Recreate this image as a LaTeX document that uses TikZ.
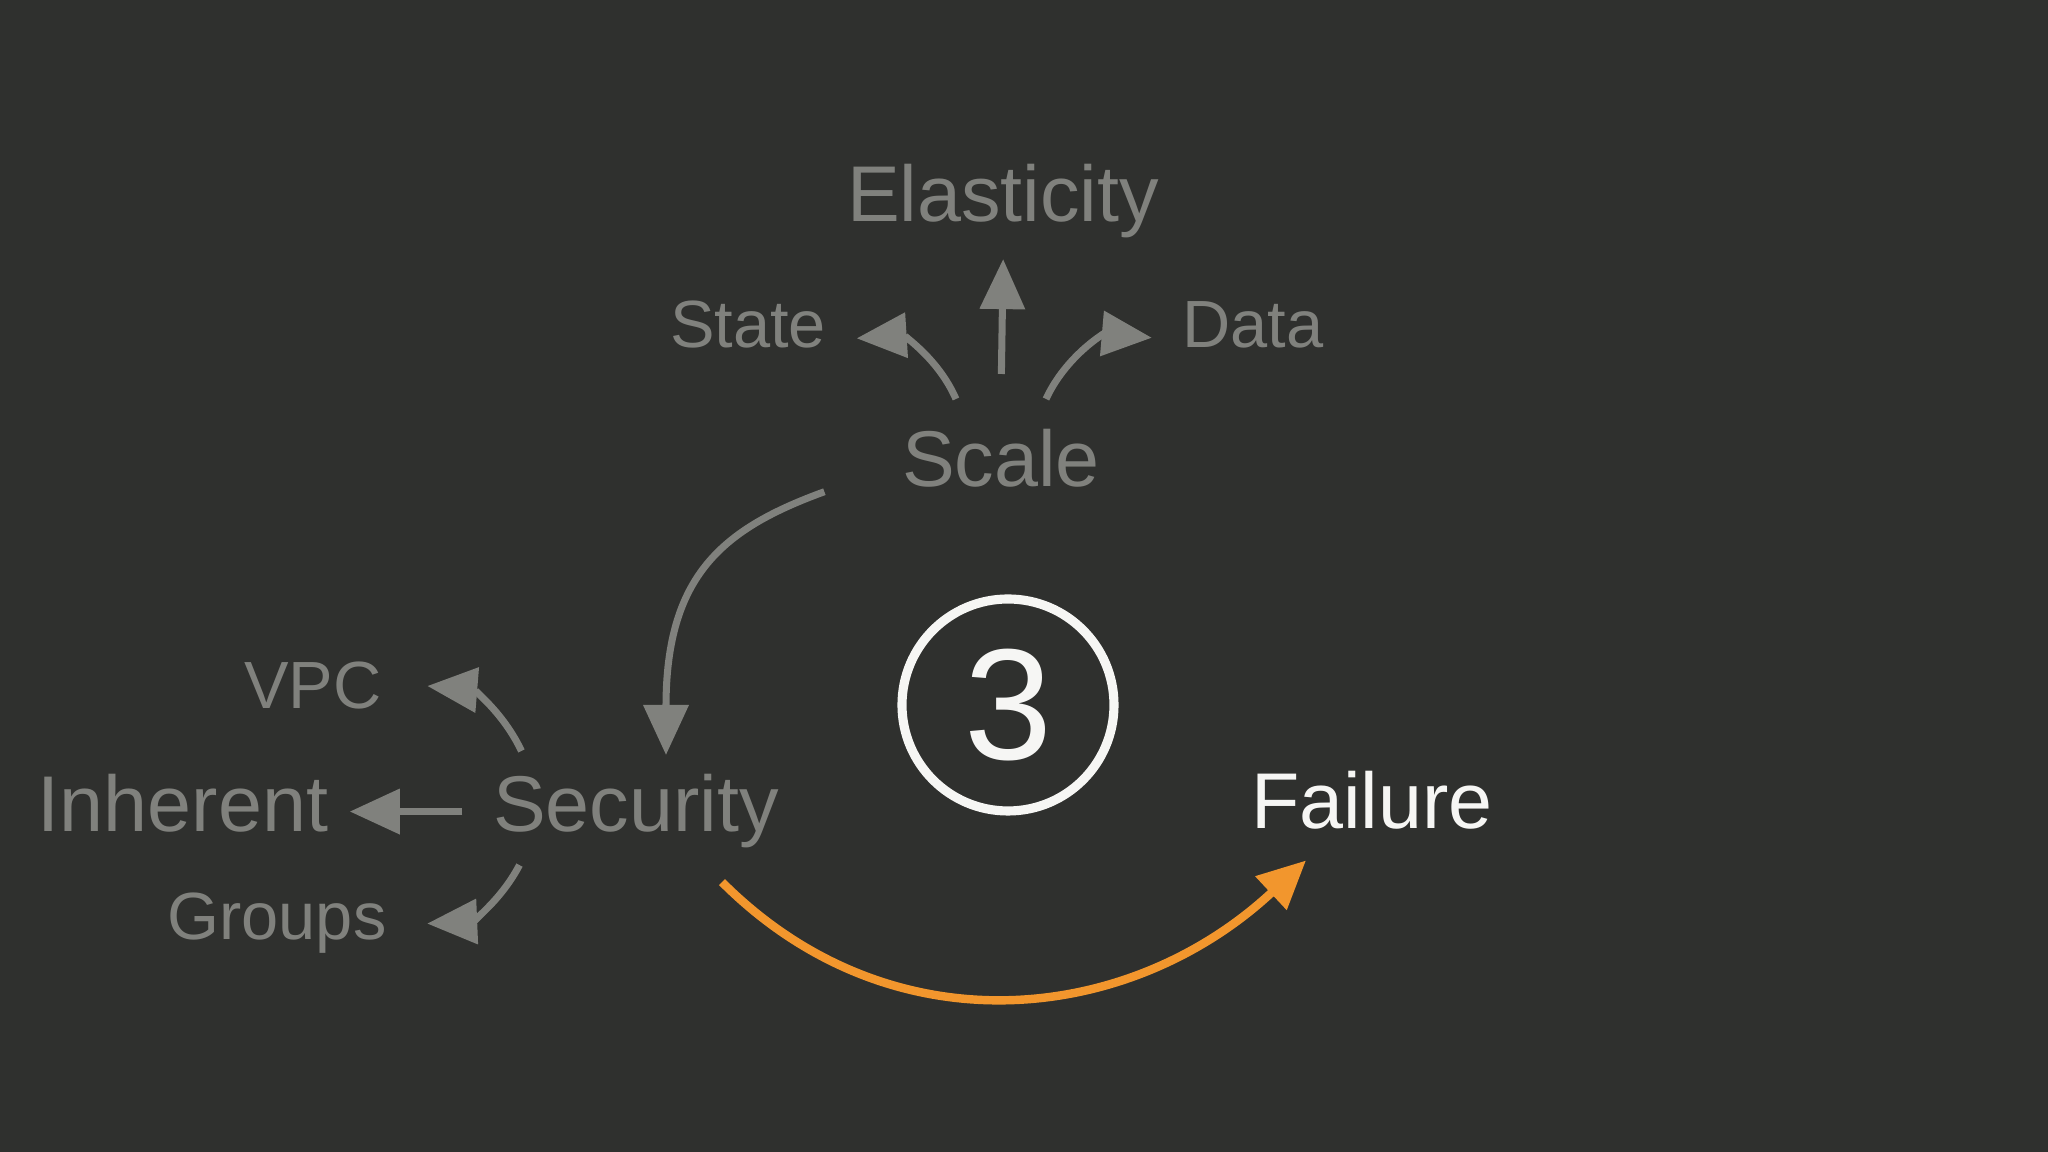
\documentclass[tikz,border=0pt]{standalone}
\usepackage{fontspec}
\setmainfont{Liberation Sans}
\usetikzlibrary{arrows.meta}
\definecolor{board}{RGB}{47,48,46}
\definecolor{chalkgray}{RGB}{128,129,125}
\definecolor{chalkwhite}{RGB}{246,246,244}
\definecolor{chalkorange}{RGB}{242,150,45}

\begin{document}
\begin{tikzpicture} [
            bigword/.style={font=\fontsize{22.5}{27}\selectfont,text=chalkgray,anchor=base,inner sep=3mm},
            smallword/.style={font=\fontsize{19}{23}\selectfont,text=chalkgray,anchor=base,inner sep=3mm},
            garrow/.style={-{Triangle[length=5mm,width=4.4mm]},draw=chalkgray,line width=2pt},
            oarrow/.style={-{Triangle[length=4.8mm,width=4.4mm]},draw=chalkorange,line width=2.4pt},
         every node/.append style={align=center}]

% board
\fill[board] (0,0) rectangle (20.48,11.52);
\useasboundingbox (0,0) rectangle (20.48,11.52);

%Scale
\node (scale) at (10.01,6.65) [bigword] {Scale};
\node (elast) at (10.03,9.30) [bigword] {Elasticity};
\node (state) at (7.48,8.04) [smallword] {State};
\node (data) at (12.53,8.04) [smallword] {Data};
\draw [garrow,shorten <=2.5mm,shorten >=-1mm] (scale.north) -- (elast.south);
\draw [garrow] (scale.127) to[bend right=35] (state.-7);
\draw [garrow] (scale.53) to[bend left=35] (data.187);

%Security
\node (security) at (6.36,3.20) [bigword] {Security};
\node (inherent) at (1.83,3.20) [bigword] {Inherent};
\node (vpc) at (3.13,4.43) [smallword] {VPC};
\node (groups) at (2.77,2.12) [smallword] {Groups};
\draw [garrow] ([xshift=-4.7mm,yshift=-3.3mm]scale.west) to[out=200,in=90,out looseness=0.9,in looseness=1.5] ([xshift=3mm,yshift=-1.1mm]security.north);
\draw [garrow] ([xshift=5.9mm,yshift=-0.7mm]security.north west) to[bend right=30] ([xshift=1.5mm]vpc.east);
\draw [garrow,shorten >=-0.9mm] (security.west) -- (security.west -| inherent.east);
\draw [garrow] ([xshift=5.7mm,yshift=1.4mm]security.south west) to[bend left=30] ([xshift=1mm]groups.east);

%3
\node (three) at (10.08,4.47) [circle,draw=chalkwhite,line width=2.6pt,minimum size=2.12cm,inner sep=0pt,
      text=chalkwhite,font=\fontsize{45}{50}\selectfont] {3};

%Failure
\node (failure) at (13.72,3.23) [bigword,text=chalkwhite] {Failure};
\draw [oarrow] ([xshift=8.6mm,yshift=-0.3mm]security.south) to[out=-45,in=223,looseness=1.05] ([xshift=-6.6mm]failure.south);

\end{tikzpicture}
\end{document}
